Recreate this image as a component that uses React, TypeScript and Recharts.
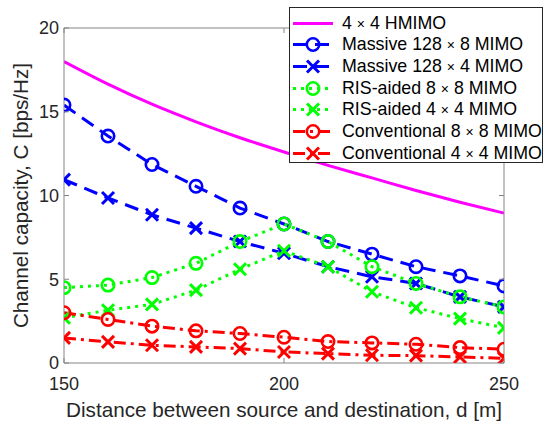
import React from "react";
import { LineChart, Line, XAxis, YAxis, Legend } from "recharts";

// distance d [m]
const distances = [150, 160, 170, 180, 190, 200, 210, 220, 230, 240, 250];

// channel capacity [bps/Hz]
const hmimo4x4 = [18.0, 16.65, 15.45, 14.4, 13.45, 12.6, 11.8, 11.05, 10.3, 9.6, 8.95];
const massive128x8 = [15.4, 13.55, 11.85, 10.55, 9.25, 8.3, 7.25, 6.5, 5.75, 5.2, 4.6];
const massive128x4 = [10.95, 9.85, 8.85, 8.05, 7.25, 6.55, 5.75, 5.15, 4.75, 3.95, 3.35];
const ris8x8 = [4.5, 4.65, 5.1, 5.95, 7.25, 8.3, 7.25, 5.75, 4.75, 3.95, 3.35];
const ris4x4 = [2.7, 3.15, 3.5, 4.35, 5.6, 6.7, 5.75, 4.25, 3.3, 2.65, 2.1];
const conv8x8 = [3.0, 2.6, 2.2, 1.92, 1.76, 1.54, 1.28, 1.2, 1.12, 0.92, 0.82];
const conv4x4 = [1.5, 1.26, 1.06, 0.96, 0.86, 0.66, 0.56, 0.46, 0.44, 0.36, 0.28];

const xTicks = [150, 200, 250];
const yTicks = [0, 5, 10, 15, 20];

const data = distances.map((d, i) => ({
  d,
  hmimo: hmimo4x4[i],
  m8: massive128x8[i],
  m4: massive128x4[i],
  r8: ris8x8[i],
  r4: ris4x4[i],
  c8: conv8x8[i],
  c4: conv4x4[i],
}));

type Marker = "none" | "o" | "x";

const series: { key: string; name: string; color: string; dash?: string; marker: Marker }[] = [
  { key: "hmimo", name: "4 × 4 HMIMO", color: "#ff00ff", marker: "none" },
  { key: "m8", name: "Massive 128 × 8 MIMO", color: "#0000ff", dash: "14 8", marker: "o" },
  { key: "m4", name: "Massive 128 × 4 MIMO", color: "#0000ff", dash: "14 8", marker: "x" },
  { key: "r8", name: "RIS-aided 8 × 8 MIMO", color: "#00ff00", dash: "3 5", marker: "o" },
  { key: "r4", name: "RIS-aided 4 × 4 MIMO", color: "#00ff00", dash: "3 5", marker: "x" },
  { key: "c8", name: "Conventional 8 × 8 MIMO", color: "#ff0000", dash: "12 5 3 5", marker: "o" },
  { key: "c4", name: "Conventional 4 × 4 MIMO", color: "#ff0000", dash: "12 5 3 5", marker: "x" },
];

const FONT = '"Liberation Sans", Arial, Helvetica, sans-serif';
const TEXT = "#262626";
const AXIS = "#858585";

function drawMarker(marker: Marker, color: string, cx: number, cy: number, key?: string | number) {
  if (marker === "o") {
    return <circle key={key} cx={cx} cy={cy} r={6.2} fill="none" stroke={color} strokeWidth={2.6} />;
  }
  if (marker === "x") {
    const s = 6;
    return (
      <g key={key}>
        <line x1={cx - s} y1={cy - s} x2={cx + s} y2={cy + s} stroke={color} strokeWidth={3} />
        <line x1={cx - s} y1={cy + s} x2={cx + s} y2={cy - s} stroke={color} strokeWidth={3} />
      </g>
    );
  }
  return <g key={key} />;
}

const BottomTick = (props: any) => {
  const { x, y, payload } = props;
  return (
    <g>
      <line x1={x} y1={y} x2={x} y2={y - 5} stroke={AXIS} />
      <text x={x} y={y + 27} textAnchor="middle" fill={TEXT} fontSize={18} fontFamily={FONT}>
        {payload.value}
      </text>
    </g>
  );
};

const LeftTick = (props: any) => {
  const { x, y, payload } = props;
  return (
    <g>
      <line x1={x} y1={y} x2={x + 5} y2={y} stroke={AXIS} />
      <text x={x - 5} y={y + 6.3} textAnchor="end" fill={TEXT} fontSize={18} fontFamily={FONT}>
        {payload.value}
      </text>
    </g>
  );
};

const TopTick = (props: any) => {
  const { x, y } = props;
  return <line x1={x} y1={y} x2={x} y2={y + 5} stroke={AXIS} />;
};

const RightTick = (props: any) => {
  const { x, y } = props;
  return <line x1={x} y1={y} x2={x - 5} y2={y} stroke={AXIS} />;
};

const renderLegend = () => (
  <div
    style={{
      position: "relative",
      width: 252,
      height: 154,
      border: "1px solid #262626",
      background: "#fff",
      fontFamily: FONT,
      fontSize: 17.8,
      color: "#000",
    }}
  >
    {series.map((s, i) => {
      const parts = s.name.split("×");
      return (
        <div
          key={s.key}
          style={{ position: "absolute", left: 0, top: 4.5 + i * 21.67, height: 21, width: 252, whiteSpace: "nowrap" }}
        >
          <svg width={48} height={21} style={{ position: "absolute", left: 0, top: 0 }}>
            <line x1={3} y1={10.5} x2={43} y2={10.5} stroke={s.color} strokeWidth={3} strokeDasharray={s.dash} />
            {drawMarker(s.marker, s.color, 23, 10.5)}
          </svg>
          <span style={{ position: "absolute", left: 52, top: 0, lineHeight: "21px" }}>
            {parts[0]}
            {parts.length > 1 && <span style={{ fontSize: 14 }}>×</span>}
            {parts[1]}
          </span>
        </div>
      );
    })}
  </div>
);

export default function App() {
  return (
    <div style={{ position: "absolute", left: 0, top: 0, background: "#fff" }}>
      <LineChart width={543} height={422} data={data} margin={{ top: 27, right: 38, left: 0, bottom: 0 }}>
        <XAxis
          dataKey="d"
          type="number"
          domain={[150, 250]}
          ticks={xTicks}
          allowDataOverflow
          height={59}
          stroke={AXIS}
          tickLine={false}
          tickSize={0}
          tickMargin={0}
          tick={<BottomTick />}
          label={{
            value: "Distance between source and destination, d [m]",
            position: "insideBottom",
            offset: 5,
            fill: TEXT,
            fontSize: 20.7,
            fontFamily: FONT,
          }}
        />
        <XAxis
          xAxisId="top"
          orientation="top"
          dataKey="d"
          type="number"
          domain={[150, 250]}
          ticks={xTicks}
          allowDataOverflow
          height={1}
          stroke={AXIS}
          tickLine={false}
          tickSize={0}
          tickMargin={0}
          tick={<TopTick />}
        />
        <YAxis
          type="number"
          domain={[0, 20]}
          ticks={yTicks}
          allowDataOverflow
          width={64}
          stroke={AXIS}
          tickLine={false}
          tickSize={0}
          tickMargin={0}
          tick={<LeftTick />}
          label={{
            value: "Channel capacity, C [bps/Hz]",
            angle: -90,
            position: "insideLeft",
            offset: 21,
            fill: TEXT,
            fontSize: 20.7,
            fontFamily: FONT,
            style: { textAnchor: "middle" },
          }}
        />
        <YAxis
          yAxisId="right"
          orientation="right"
          type="number"
          domain={[0, 20]}
          ticks={yTicks}
          allowDataOverflow
          width={1}
          stroke={AXIS}
          tickLine={false}
          tickSize={0}
          tickMargin={0}
          tick={<RightTick />}
        />
        {series.map((s) => (
          <Line
            key={s.key}
            type={s.key === "hmimo" ? "monotone" : "linear"}
            dataKey={s.key}
            name={s.name}
            stroke={s.color}
            strokeWidth={3}
            strokeDasharray={s.dash}
            dot={(p: any) => drawMarker(s.marker, s.color, p.cx, p.cy, p.index)}
            activeDot={false}
            isAnimationActive={false}
          />
        ))}
        <Legend
          layout="vertical"
          align="center"
          verticalAlign="middle"
          content={renderLegend}
          wrapperStyle={{ position: "absolute", top: 7, left: 289, width: 254, height: 156 }}
        />
      </LineChart>
    </div>
  );
}
